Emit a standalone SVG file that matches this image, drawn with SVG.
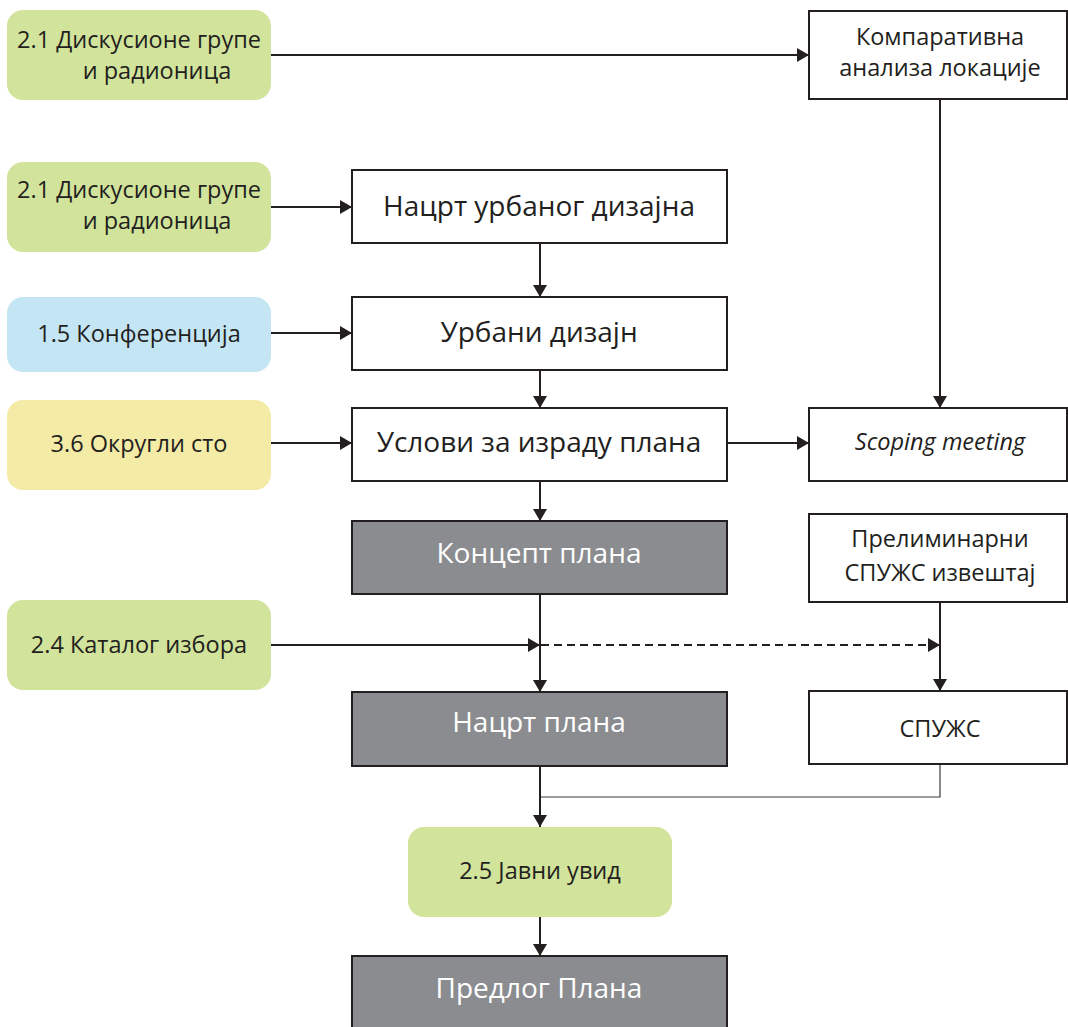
<svg xmlns="http://www.w3.org/2000/svg" width="1068" height="1027" viewBox="0 0 1068 1027">
<style>
text{font-family:"Open Sans","Noto Sans",sans-serif;fill:#231f20}
.box{fill:#fff;stroke:#231f20;stroke-width:2}
.dark{fill:#8b8c90;stroke:#231f20;stroke-width:2}
.green{fill:#d2e39b}
.blue{fill:#c4e6f4}
.yellow{fill:#f4eba7}
.s{font-size:23.5px}
.m{font-size:28px}
.w{fill:#fff}
.c{text-anchor:middle}
.ln{fill:none;stroke:#231f20;stroke-width:2}
.thin{fill:none;stroke:#3a3a3a;stroke-width:1.2}
.dash{fill:none;stroke:#231f20;stroke-width:2;stroke-dasharray:8 5}
</style>
<defs>
<marker id="ah" markerWidth="12" markerHeight="14" refX="12" refY="7" orient="auto" markerUnits="userSpaceOnUse">
<path d="M0,0 L12,7 L0,14 Z" fill="#231f20"/>
</marker>
</defs>
<g id="connectors">
<line class="ln" x1="271" y1="55" x2="809" y2="55" marker-end="url(#ah)"/>
<line class="ln" x1="271" y1="207" x2="352" y2="207" marker-end="url(#ah)"/>
<line class="ln" x1="271" y1="333" x2="352" y2="333" marker-end="url(#ah)"/>
<line class="ln" x1="271" y1="443" x2="352" y2="443" marker-end="url(#ah)"/>
<line class="ln" x1="727" y1="443" x2="809" y2="443" marker-end="url(#ah)"/>
<line class="ln" x1="940" y1="99" x2="940" y2="408" marker-end="url(#ah)"/>
<line class="ln" x1="540" y1="243" x2="540" y2="297" marker-end="url(#ah)"/>
<line class="ln" x1="540" y1="370" x2="540" y2="408" marker-end="url(#ah)"/>
<line class="ln" x1="540" y1="481" x2="540" y2="521" marker-end="url(#ah)"/>
<line class="ln" x1="540" y1="594" x2="540" y2="692" marker-end="url(#ah)"/>
<line class="ln" x1="271" y1="645" x2="540" y2="645" marker-end="url(#ah)"/>
<line class="dash" x1="541" y1="645" x2="940" y2="645" marker-end="url(#ah)"/>
<line class="ln" x1="940" y1="587" x2="940" y2="691" marker-end="url(#ah)"/>
<polyline class="thin" points="940,764 940,797 540,797"/>
<line class="ln" x1="540" y1="766" x2="540" y2="827" marker-end="url(#ah)"/>
<line class="ln" x1="540" y1="917" x2="540" y2="956" marker-end="url(#ah)"/>
</g>
<g id="n1">
<rect class="green" x="7" y="10" width="264" height="90" rx="16"/>
<text class="s c" x="139" y="48">2.1 Дискусионе групе</text>
<text class="s c" x="157" y="79">и радионица</text>
</g>
<g id="n2">
<rect class="box" x="809" y="11" width="258" height="88"/>
<text class="s c" x="940" y="45">Компаративна</text>
<text class="s c" x="940" y="76">анализа локације</text>
</g>
<g id="n3">
<rect class="green" x="7" y="162" width="264" height="90" rx="16"/>
<text class="s c" x="139" y="198">2.1 Дискусионе групе</text>
<text class="s c" x="157" y="229">и радионица</text>
</g>
<g id="n4">
<rect class="box" x="352" y="170" width="375" height="73"/>
<text class="m c" x="539" y="216">Нацрт урбаног дизајна</text>
</g>
<g id="n5">
<rect class="blue" x="7" y="297" width="264" height="75" rx="16"/>
<text class="s c" x="139" y="342">1.5 Конференција</text>
</g>
<g id="n6">
<rect class="box" x="352" y="297" width="375" height="73"/>
<text class="m c" x="539" y="342">Урбани дизајн</text>
</g>
<g id="n7">
<rect class="yellow" x="7" y="400" width="264" height="90" rx="16"/>
<text class="s c" x="139" y="452">3.6 Округли сто</text>
</g>
<g id="n8">
<rect class="box" x="352" y="408" width="375" height="73"/>
<text class="m c" x="539" y="452">Услови за израду плана</text>
</g>
<g id="n9">
<rect class="box" x="809" y="408" width="258" height="73"/>
<text class="s c" x="940" y="450" font-style="italic">Scoping meeting</text>
</g>
<g id="n10">
<rect class="dark" x="352" y="521" width="375" height="73"/>
<text class="m c w" x="539" y="563">Концепт плана</text>
</g>
<g id="n11">
<rect class="box" x="809" y="514" width="258" height="88"/>
<text class="s c" x="940" y="547">Прелиминарни</text>
<text class="s c" x="940" y="581">СПУЖС извештај</text>
</g>
<g id="n12">
<rect class="green" x="7" y="600" width="264" height="90" rx="16"/>
<text class="s c" x="139" y="653">2.4 Каталог избора</text>
</g>
<g id="n13">
<rect class="dark" x="352" y="692" width="375" height="74"/>
<text class="m c w" x="539" y="732">Нацрт плана</text>
</g>
<g id="n14">
<rect class="box" x="809" y="691" width="258" height="73"/>
<text class="s c" x="940" y="737">СПУЖС</text>
</g>
<g id="n15">
<rect class="green" x="408" y="827" width="264" height="90" rx="16"/>
<text class="s c" x="540" y="879">2.5 Јавни увид</text>
</g>
<g id="n16">
<rect class="dark" x="352" y="956" width="375" height="80"/>
<text class="m c w" x="539" y="998">Предлог Плана</text>
</g>
</svg>
